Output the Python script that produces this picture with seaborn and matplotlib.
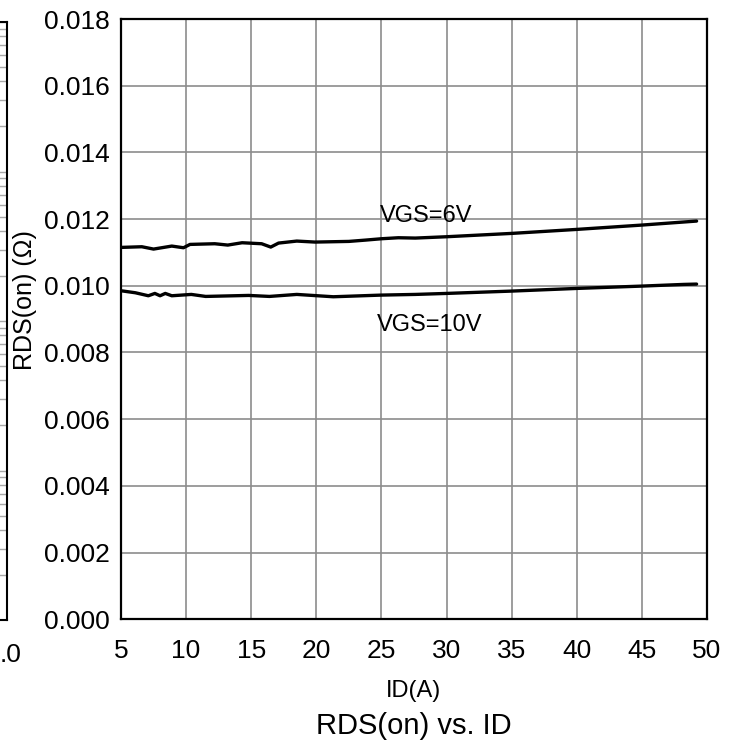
import numpy as np
import pandas as pd
import seaborn as sns
import matplotlib.pyplot as plt
from matplotlib.ticker import LogLocator, NullFormatter

# RDS(on) vs ID
id_6v = [5, 6.6, 7.5, 8.9, 9.8, 10.3, 12.2, 13.2, 14.3, 15.8, 16.5, 17.1, 18.5, 19.9,
         22.5, 23.8, 25, 26.3, 27.6, 30, 35, 40, 45, 49.2]
rds_6v = [0.01115, 0.01117, 0.01110, 0.01119, 0.01114, 0.01124, 0.01126, 0.01122, 0.01129,
          0.01126, 0.01116, 0.01128, 0.01134, 0.01131, 0.01133, 0.01137, 0.01141, 0.01144,
          0.01143, 0.01147, 0.01157, 0.01169, 0.01182, 0.01194]

id_10v = [5, 6.1, 7.1, 7.6, 8.0, 8.4, 8.9, 10.4, 11.5, 14.8, 16.4, 18.5, 21.3, 25, 27.6,
          30, 35, 40, 45, 48.2, 49.2]
rds_10v = [0.00985, 0.00979, 0.00970, 0.00977, 0.00970, 0.00977, 0.00970, 0.00974, 0.00968,
           0.00971, 0.00968, 0.00974, 0.00967, 0.00972, 0.00974, 0.00977, 0.00984, 0.00992,
           0.00999, 0.01004, 0.01005]

x_ticks = [5, 10, 15, 20, 25, 30, 35, 40, 45, 50]
y_ticks = [0.000, 0.002, 0.004, 0.006, 0.008, 0.010, 0.012, 0.014, 0.016, 0.018]

df = pd.concat([
    pd.DataFrame({'ID': id_6v, 'RDS': rds_6v, 'VGS': 'VGS=6V'}),
    pd.DataFrame({'ID': id_10v, 'RDS': rds_10v, 'VGS': 'VGS=10V'}),
])

sns.set_style('white')
plt.rcParams['font.family'] = ['Liberation Sans', 'DejaVu Sans']
plt.rcParams['text.color'] = 'black'
plt.rcParams['xtick.color'] = 'black'
plt.rcParams['ytick.color'] = 'black'
plt.rcParams['axes.labelcolor'] = 'black'

fig = plt.figure(figsize=(7.4, 7.49), dpi=100)
W, H = 740, 749

# neighbouring chart cut off at the left edge (log grid only)
axl = fig.add_axes([-0.5, 1 - 620 / H, 0.5 + 7 / W, 598 / H])
axl.set_yscale('log')
axl.set_ylim(0.01, 100)
axl.set_xlim(0, 1)
axl.yaxis.set_major_locator(LogLocator(base=10))
axl.yaxis.set_minor_locator(LogLocator(base=10, subs=np.arange(2, 10)))
axl.grid(True, which='both', axis='y', color='#a8a8a8', lw=1.0)
axl.set_xticks([])
axl.yaxis.set_major_formatter(NullFormatter())
axl.yaxis.set_minor_formatter(NullFormatter())
axl.tick_params(length=0)
for s in axl.spines.values():
    s.set_color('black')
    s.set_linewidth(1.5)
fig.text(0, 1 - 655 / H, '.0', ha='left', va='center', fontsize=19)

# main chart
ax = fig.add_axes([121 / W, 1 - 619.2 / H, 586 / W, 600.2 / H])
sns.lineplot(data=df, x='ID', y='RDS', units='VGS', estimator=None, sort=False,
             color='black', lw=2.4, ax=ax, legend=False)
ax.set_xlim(5, 50)
ax.set_ylim(0, 0.018)
ax.set_xticks(x_ticks)
ax.set_yticks(y_ticks)
ax.set_yticklabels([f'{v:.3f}' for v in y_ticks])
ax.grid(True, color='#8c8c8c', lw=1.2)
ax.set_axisbelow(True)
ax.tick_params(length=0, labelsize=19)
ax.tick_params(axis='y', pad=8)
ax.tick_params(axis='x', pad=14)
for s in ax.spines.values():
    s.set_visible(True)
    s.set_color('black')
    s.set_linewidth(1.6)
ax.set_xlabel('')
ax.set_ylabel('')

ax.text(28.4, 0.01209, 'VGS=6V', ha='center', va='center', fontsize=17)
ax.text(28.7, 0.00882, 'VGS=10V', ha='center', va='center', fontsize=17)

fig.text(25 / W, 1 - 300 / H, 'RDS(on) (Ω)', rotation=90, ha='center', va='center', fontsize=18)
fig.text(414 / W, 1 - 691 / H, 'ID(A)', ha='center', va='center', fontsize=17)
fig.text(414 / W, 1 - 726 / H, 'RDS(on) vs. ID', ha='center', va='center', fontsize=21)

fig.savefig('out.png', dpi=100)
